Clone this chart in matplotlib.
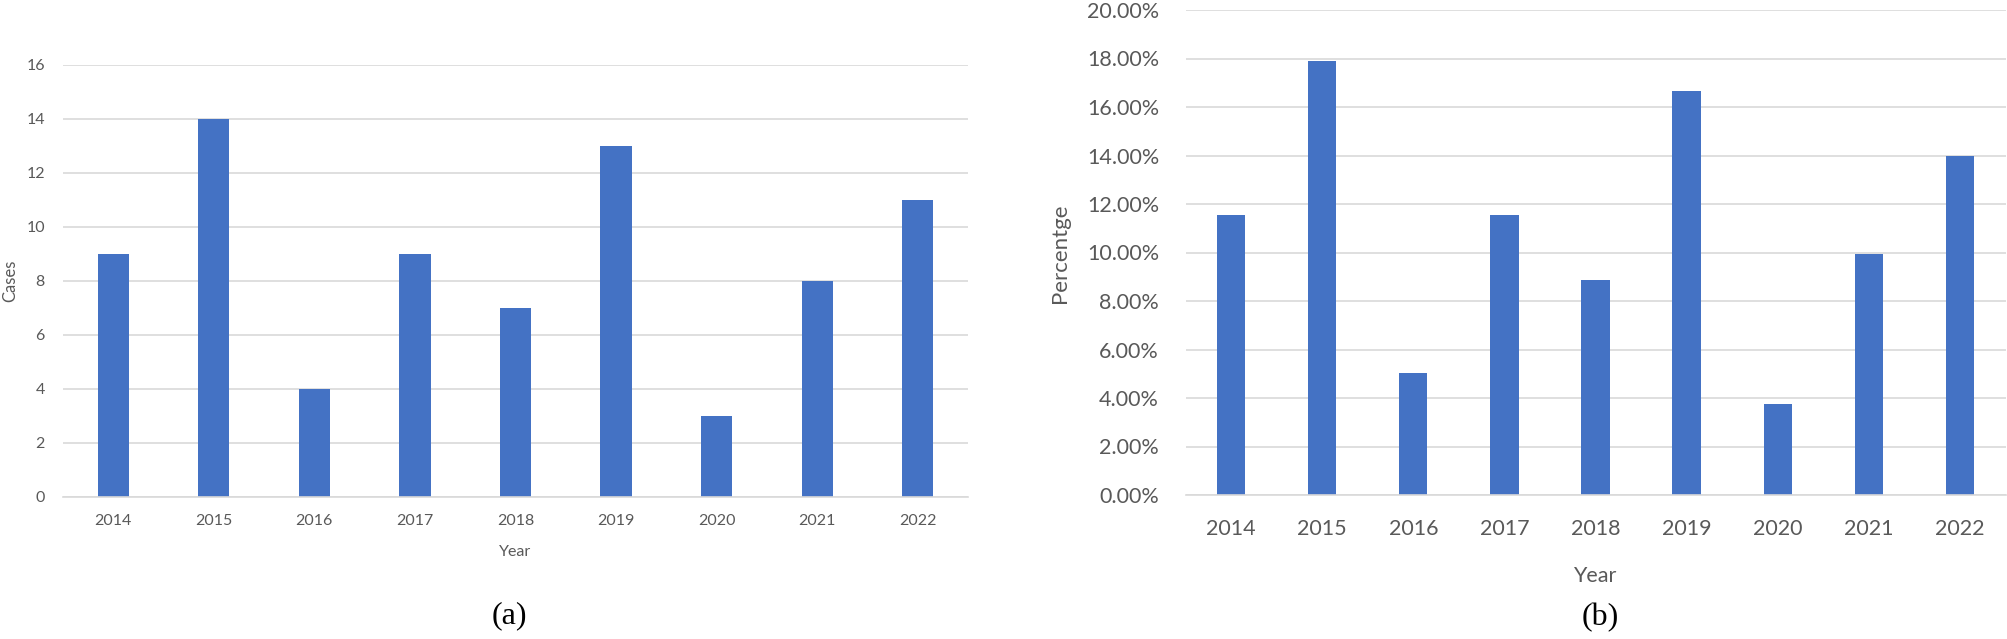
import numpy as np
import matplotlib
matplotlib.use("Agg")
import matplotlib.pyplot as plt
from matplotlib.ticker import FuncFormatter

# Data
years = ['2014', '2015', '2016', '2017', '2018', '2019', '2020', '2021', '2022']
cases = [9, 14, 4, 9, 7, 13, 3, 8, 11]
percent = [11.54, 17.9, 5.03, 11.54, 8.88, 16.68, 3.75, 9.93, 13.96]

bar_color = '#4472C4'
grid_color = '#d9d9d9'
text_color = '#595959'

plt.rcParams['font.family'] = ['Lato', 'DejaVu Sans']

fig = plt.figure(figsize=(20.07, 6.39), dpi=100)
W, H = 2007, 639

def axes_px(x0, x1, ytop, ybot):
    return fig.add_axes([x0 / W, 1 - ybot / H, (x1 - x0) / W, (ybot - ytop) / H])

def style(ax):
    for s in ['top', 'right', 'left']:
        ax.spines[s].set_visible(False)
    ax.spines['bottom'].set_color(grid_color)
    ax.spines['bottom'].set_linewidth(1.2)
    ax.yaxis.grid(True, color=grid_color, linewidth=1.2)
    ax.set_axisbelow(True)
    ax.tick_params(length=0, colors=text_color)

x = np.arange(len(years))

# (a) number of cases
ax1 = axes_px(63, 968, 65, 497)
ax1.bar(x, cases, width=0.31, color=bar_color)
ax1.set_xlim(-0.5, len(years) - 0.5)
ax1.set_ylim(0, 16)
ax1.set_yticks(np.arange(0, 17, 2))
ax1.set_xticks(x)
ax1.set_xticklabels(years)
style(ax1)
ax1.tick_params(axis='both', labelsize=11.5)
ax1.tick_params(axis='x', pad=12)
ax1.tick_params(axis='y', pad=13)
ax1.set_xlabel('Year', fontsize=11.5, color=text_color)
ax1.xaxis.label.set_va('center')
ax1.xaxis.set_label_coords(0.5, -0.127)
ax1.set_ylabel('Cases', fontsize=12, color=text_color)
ax1.yaxis.label.set_va('center')
ax1.yaxis.set_label_coords(-53 / 905, 0.5)

# (b) percentage
ax2 = axes_px(1185.5, 2005.5, 10, 495)
ax2.bar(x, percent, width=0.31, color=bar_color)
ax2.set_xlim(-0.5, len(years) - 0.5)
ax2.set_ylim(0, 20)
ax2.set_yticks(np.arange(0, 21, 2))
ax2.yaxis.set_major_formatter(FuncFormatter(lambda v, p: f'{v:.2f}%'))
ax2.set_xticks(x)
ax2.set_xticklabels(years)
style(ax2)
ax2.tick_params(axis='both', labelsize=15.5)
ax2.tick_params(axis='x', pad=17)
ax2.tick_params(axis='y', pad=19)
ax2.set_xlabel('Year', fontsize=15.5, color=text_color)
ax2.xaxis.label.set_va('center')
ax2.xaxis.set_label_coords((1595 - 1185.5) / 820, -(576 - 495) / 485)
ax2.set_ylabel('Percentge', fontsize=16, color=text_color)
ax2.yaxis.label.set_va('center')
ax2.yaxis.set_label_coords(-(1185.5 - 1060) / 820, (495 - 253) / 485)

# panel captions
fig.text(509 / W, 1 - 616 / H, '(a)', fontsize=23, family='Liberation Serif',
         ha='center', va='center')
fig.text(1600 / W, 1 - 618 / H, '(b)', fontsize=23, family='Liberation Serif',
         ha='center', va='center')

fig.savefig('out.png', dpi=100)
